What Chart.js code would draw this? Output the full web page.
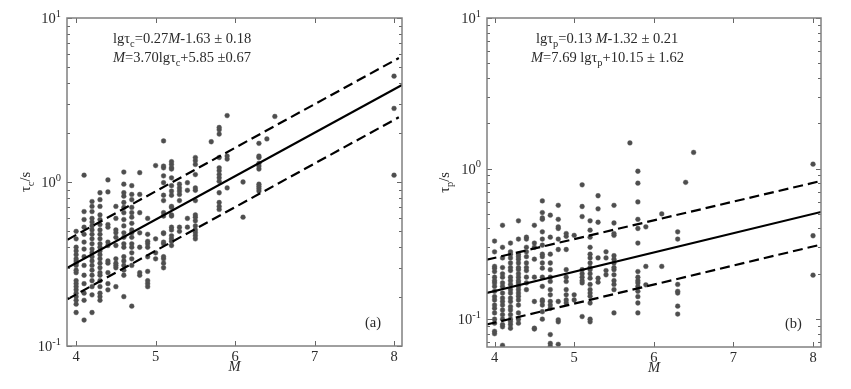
<!DOCTYPE html>
<html>
<head>
<meta charset="utf-8">
<script src="https://cdn.jsdelivr.net/npm/chart.js@4.4.1/dist/chart.umd.min.js"></script>
<style>
    html, body { margin: 0; padding: 0; background: #fff; }
    #wrap { position: relative; width: 851px; height: 389px; }
    #chartA { position: absolute; left: 0; top: 0; }
    #chartB { position: absolute; left: 425px; top: 0; }
</style>
</head>
<body>
<div id="wrap">
    <canvas id="chartA" width="425" height="389"></canvas>
    <canvas id="chartB" width="426" height="389"></canvas>
</div>
<script>
// ---- DATA ----

// magnitude columns shared by both panels
const magColumns = [4.0, 4.1, 4.2, 4.3, 4.4, 4.5, 4.6, 4.7, 4.8, 4.9, 5.0, 5.1, 5.2, 5.3, 5.4, 5.5, 5.7, 5.8, 5.9, 6.1, 6.3, 6.4, 6.5, 8.0];

// panel (a): tau_c values (s) per magnitude column
const tauC = [
    [0.50, 0.45, 0.40, 0.38, 0.36, 0.34, 0.33, 0.32, 0.31, 0.29, 0.28, 0.25, 0.24, 0.23, 0.22, 0.21, 0.20, 0.19, 0.18, 0.16],
    [1.10, 0.66, 0.59, 0.53, 0.48, 0.43, 0.39, 0.35, 0.31, 0.27, 0.24, 0.21, 0.19, 0.144],
    [0.76, 0.71, 0.66, 0.60, 0.57, 0.54, 0.51, 0.48, 0.45, 0.42, 0.39, 0.37, 0.35, 0.33, 0.31, 0.29, 0.27, 0.25, 0.23, 0.205, 0.16],
    [0.86, 0.78, 0.71, 0.63, 0.59, 0.55, 0.51, 0.48, 0.45, 0.42, 0.40, 0.38, 0.36, 0.34, 0.32, 0.30, 0.28, 0.27, 0.25, 0.23, 0.21, 0.20, 0.19],
    [1.03, 0.87, 0.55, 0.53, 0.43, 0.41, 0.33, 0.32, 0.28, 0.24, 0.22],
    [0.71, 0.60, 0.51, 0.49, 0.46, 0.41, 0.34, 0.32, 0.31, 0.30, 0.23],
    [1.15, 0.97, 0.86, 0.82, 0.75, 0.70, 0.65, 0.59, 0.54, 0.49, 0.46, 0.42, 0.40, 0.35, 0.33, 0.31, 0.29, 0.27, 0.20],
    [0.95, 0.84, 0.78, 0.70, 0.65, 0.61, 0.56, 0.51, 0.49, 0.46, 0.42, 0.40, 0.37, 0.34, 0.31, 0.175],
    [1.14, 0.84, 0.65, 0.49, 0.40, 0.28, 0.27],
    [0.60, 0.48, 0.435, 0.42, 0.40, 0.35, 0.285, 0.25, 0.24, 0.23],
    [1.26, 0.45, 0.37, 0.34],
    [1.78, 1.25, 1.22, 1.09, 0.99, 0.83, 0.77, 0.65, 0.62, 0.49, 0.485, 0.43, 0.42, 0.35, 0.34, 0.32, 0.30],
    [1.33, 1.28, 1.22, 1.20, 1.06, 0.95, 0.88, 0.83, 0.71, 0.70, 0.63, 0.62, 0.53, 0.51, 0.47, 0.45, 0.435, 0.41],
    [0.97, 0.92, 0.88, 0.84, 0.77, 0.53, 0.50],
    [0.99, 0.89, 0.60, 0.53],
    [1.41, 1.35, 1.28, 1.11, 0.92, 0.89, 0.77, 0.63, 0.61, 0.58, 0.54, 0.51, 0.49, 0.47, 0.45],
    [1.76],
    [2.15, 2.08, 1.96, 1.41, 1.22, 1.17, 1.11, 1.06, 1.01, 0.86, 0.75, 0.71, 0.68],
    [2.54, 1.44, 1.38, 0.92],
    [1.00, 0.61],
    [1.72, 1.44, 1.41, 1.30, 1.25, 1.20, 0.97, 0.94, 0.91, 0.88],
    [1.83],
    [2.51],
    [4.42, 2.81, 1.10]
];

// panel (b): tau_p values (s) per magnitude column
const tauP = [
    [0.33, 0.28, 0.224, 0.218, 0.207, 0.19, 0.18, 0.174, 0.165, 0.153, 0.141, 0.134, 0.124, 0.118, 0.11, 0.10, 0.094, 0.083, 0.08],
    [0.42, 0.30, 0.255, 0.22, 0.20, 0.19, 0.174, 0.165, 0.149, 0.138, 0.131, 0.124, 0.115, 0.107, 0.10, 0.092, 0.089, 0.067],
    [0.32, 0.28, 0.27, 0.255, 0.236, 0.22, 0.21, 0.19, 0.18, 0.17, 0.157, 0.149, 0.138, 0.131, 0.121, 0.115, 0.107, 0.10, 0.096, 0.092, 0.087],
    [0.45, 0.34, 0.27, 0.26, 0.25, 0.236, 0.22, 0.213, 0.20, 0.19, 0.18, 0.174, 0.165, 0.157, 0.149, 0.142, 0.134, 0.124, 0.11, 0.10, 0.094],
    [0.35, 0.34, 0.30, 0.28, 0.26, 0.236, 0.22, 0.21, 0.19, 0.174, 0.157],
    [0.42, 0.32, 0.30, 0.25, 0.19, 0.131, 0.087, 0.086],
    [0.61, 0.51, 0.47, 0.46, 0.38, 0.34, 0.31, 0.27, 0.26, 0.236, 0.218, 0.19, 0.165, 0.134, 0.131, 0.124, 0.112, 0.10],
    [0.49, 0.35, 0.27, 0.236, 0.213, 0.19, 0.178, 0.157, 0.145, 0.131, 0.124, 0.118, 0.079, 0.069, 0.066],
    [0.57, 0.46, 0.41, 0.40, 0.34, 0.29, 0.131, 0.099, 0.096, 0.068],
    [0.37, 0.355, 0.29, 0.213, 0.19, 0.178, 0.157, 0.145, 0.134, 0.128],
    [0.36, 0.145, 0.134],
    [0.78, 0.56, 0.48, 0.213, 0.20, 0.19, 0.18, 0.174, 0.104],
    [0.45, 0.39, 0.35, 0.30, 0.27, 0.255, 0.236, 0.22, 0.213, 0.20, 0.187, 0.17, 0.157, 0.149, 0.142, 0.128, 0.10, 0.096],
    [0.66, 0.54, 0.44, 0.255, 0.187, 0.176],
    [0.28, 0.255, 0.21, 0.197],
    [0.57, 0.435, 0.37, 0.36, 0.264, 0.25, 0.236, 0.22, 0.213, 0.197, 0.18, 0.17, 0.157, 0.11],
    [1.48],
    [0.96, 0.80, 0.60, 0.46, 0.40, 0.32, 0.207, 0.19, 0.18, 0.174, 0.165, 0.153, 0.141, 0.128, 0.11],
    [0.41, 0.224, 0.169],
    [0.50, 0.224],
    [0.38, 0.34, 0.17, 0.153, 0.149, 0.122, 0.108],
    [0.81],
    [1.28],
    [1.07, 0.358, 0.196]
];

// fit lines: end points (M, tau)
const fitMA = [3.89, 8.1];
const fitCenterA = [0.30, 3.9];
const bandMA = [3.89, 8.06];
const bandUpperA = [0.445, 5.7];
const bandLowerA = [0.193, 2.48];

const fitMB = [3.9, 8.1];
const fitCenterB = [0.149, 0.515];
const bandMB = [3.9, 8.07];
const bandUpperB = [0.248, 0.82];
const bandLowerB = [0.092, 0.31];

const xTicks = [4, 5, 6, 7, 8];
const yTickExps = [-1, 0, 1];

// ---- HELPERS ----

const FONT = '"Liberation Serif", "Times New Roman", serif';
const FS = 14.5;

function toPoints(cols, vals) {
    const pts = [];
    cols.forEach((m, i) => vals[i].forEach(t => pts.push({ x: m, y: t })));
    return pts;
}

function pair(ms, ts) {
    return ms.map((m, i) => ({ x: m, y: ts[i] }));
}

// text pieces: {t, it, sub, sup}
function runWidth(ctx, runs, size) {
    let w = 0;
    runs.forEach(r => {
        ctx.font = (r.it ? 'italic ' : '') + (r.sub || r.sup ? size * 0.72 : size) + 'px ' + FONT;
        w += ctx.measureText(r.t).width;
    });
    return w;
}

function drawRuns(ctx, x, y, runs, size) {
    runs.forEach(r => {
        const fs = r.sub || r.sup ? size * 0.72 : size;
        ctx.font = (r.it ? 'italic ' : '') + fs + 'px ' + FONT;
        const dy = r.sub ? size * 0.28 : (r.sup ? -size * 0.42 : 0);
        ctx.fillText(r.t, x, y + dy);
        x += ctx.measureText(r.t).width;
    });
}

// frame, inward ticks and all texts in MATLAB style
const panelDecor = {
    id: 'panelDecor',
    afterDatasetsDraw(chart, args, opts) {
        const { ctx, chartArea: a, scales: { x, y } } = chart;
        ctx.save();

        const seg = (x1, y1, x2, y2) => {
            ctx.beginPath();
            ctx.moveTo(x1, y1);
            ctx.lineTo(x2, y2);
            ctx.stroke();
        };

        // y ticks (major + minor), both sides
        ctx.strokeStyle = '#666';
        ctx.lineWidth = 1;
        for (let e = -2; e <= 1; e++) {
            for (let k = 1; k <= 9; k++) {
                const v = k * Math.pow(10, e);
                if (v < y.min * 0.999 || v > y.max * 1.001) continue;
                const py = Math.round(y.getPixelForValue(v)) + 0.5;
                const len = k === 1 ? 5 : 3;
                seg(a.left, py, a.left + len, py);
                seg(a.right, py, a.right - len, py);
            }
        }
        // x ticks, bottom and top
        xTicks.forEach(v => {
            const px = Math.round(x.getPixelForValue(v)) + 0.5;
            seg(px, a.bottom, px, a.bottom - 5);
            seg(px, a.top, px, a.top + 5);
        });

        // box
        ctx.strokeStyle = '#808080';
        ctx.lineWidth = 1.5;
        ctx.strokeRect(a.left, a.top, a.right - a.left, a.bottom - a.top);

        ctx.fillStyle = '#2a2a2a';
        ctx.textBaseline = 'alphabetic';

        // x tick labels
        ctx.textAlign = 'center';
        ctx.font = FS + 'px ' + FONT;
        xTicks.forEach(v => {
            ctx.fillText(String(v), x.getPixelForValue(v), a.bottom + 15);
        });
        // x title
        ctx.font = 'italic ' + FS + 'px ' + FONT;
        ctx.fillText('M', (a.left + a.right) / 2, a.bottom + 25);

        // y tick labels 10^n
        ctx.textAlign = 'left';
        yTickExps.forEach(n => {
            const py = y.getPixelForValue(Math.pow(10, n));
            const runs = [{ t: '10' }, { t: String(n), sup: true }];
            const w = runWidth(ctx, runs, FS);
            drawRuns(ctx, a.left - 6 - w, py + 5, runs, FS);
        });

        // y title, rotated
        const yRuns = [{ t: 'τ' }, { t: opts.sub, sub: true }, { t: '/s' }];
        ctx.save();
        ctx.translate(opts.yTitleX, (a.top + a.bottom) / 2);
        ctx.rotate(-Math.PI / 2);
        const yw = runWidth(ctx, yRuns, FS);
        drawRuns(ctx, -yw / 2, 5, yRuns, FS);
        ctx.restore();

        // equations
        drawRuns(ctx, opts.eqX[0], 43, opts.eq1, FS);
        drawRuns(ctx, opts.eqX[1], 62, opts.eq2, FS);

        // panel letter
        ctx.font = FS + 'px ' + FONT;
        ctx.fillText(opts.letter, opts.letterX, a.bottom - 19);

        ctx.restore();
    }
};

function makePanel(canvasId, cfg) {
    return new Chart(document.getElementById(canvasId), {
        type: 'scatter',
        data: {
            datasets: [
                {
                    type: 'line',
                    data: pair(cfg.fitM, cfg.center),
                    borderColor: '#000',
                    borderWidth: 2.2,
                    pointRadius: 0,
                    fill: false
                },
                {
                    type: 'line',
                    data: pair(cfg.bandM, cfg.upper),
                    borderColor: '#000',
                    borderWidth: 2.2,
                    borderDash: [10, 5],
                    pointRadius: 0,
                    fill: false
                },
                {
                    type: 'line',
                    data: pair(cfg.bandM, cfg.lower),
                    borderColor: '#000',
                    borderWidth: 2.2,
                    borderDash: [10, 5],
                    pointRadius: 0,
                    fill: false
                },
                {
                    data: cfg.points,
                    backgroundColor: '#4e4e4e',
                    borderColor: 'rgba(90, 90, 90, 0.7)',
                    borderWidth: 0.6,
                    pointRadius: 2.4
                }
            ]
        },
        options: {
            responsive: false,
            animation: false,
            events: [],
            layout: {
                padding: { left: 0, right: cfg.padRight, top: 18, bottom: 0 }
            },
            plugins: {
                legend: { display: false },
                tooltip: { enabled: false },
                panelDecor: cfg.decor
            },
            scales: {
                x: {
                    type: 'linear',
                    min: cfg.xMin,
                    max: 8.1,
                    grid: { display: false },
                    border: { display: false },
                    ticks: { display: false },
                    afterBuildTicks: s => { s.ticks = xTicks.map(v => ({ value: v })); },
                    afterFit: s => { s.height = cfg.xHeight; }
                },
                y: {
                    type: 'logarithmic',
                    min: cfg.yMin,
                    max: 10,
                    grid: { display: false },
                    border: { display: false },
                    ticks: { display: false },
                    afterFit: s => { s.width = cfg.yWidth; }
                }
            }
        },
        plugins: [panelDecor]
    });
}

makePanel('chartA', {
    points: toPoints(magColumns, tauC),
    fitM: fitMA, center: fitCenterA,
    bandM: bandMA, upper: bandUpperA, lower: bandLowerA,
    xMin: 3.885, yMin: 0.1,
    yWidth: 67, xHeight: 43, padRight: 23,
    decor: {
        sub: 'c',
        yTitleX: 25,
        eqX: [113, 113],
        eq1: [{ t: 'lgτ' }, { t: 'c', sub: true }, { t: '=0.27' }, { t: 'M', it: true }, { t: '-1.63 ± 0.18' }],
        eq2: [{ t: 'M', it: true }, { t: '=3.70lgτ' }, { t: 'c', sub: true }, { t: '+5.85 ±0.67' }],
        letter: '(a)',
        letterX: 365
    }
});

makePanel('chartB', {
    points: toPoints(magColumns, tauP),
    fitM: fitMB, center: fitCenterB,
    bandM: bandMB, upper: bandUpperB, lower: bandLowerB,
    xMin: 3.905, yMin: 0.0653,
    yWidth: 62, xHeight: 42, padRight: 30,
    decor: {
        sub: 'p',
        yTitleX: 19,
        eqX: [111, 106],
        eq1: [{ t: 'lgτ' }, { t: 'p', sub: true }, { t: '=0.13 ' }, { t: 'M', it: true }, { t: '-1.32 ± 0.21' }],
        eq2: [{ t: 'M', it: true }, { t: '=7.69 lgτ' }, { t: 'p', sub: true }, { t: '+10.15 ± 1.62' }],
        letter: '(b)',
        letterX: 360
    }
});
</script>
</body>
</html>
